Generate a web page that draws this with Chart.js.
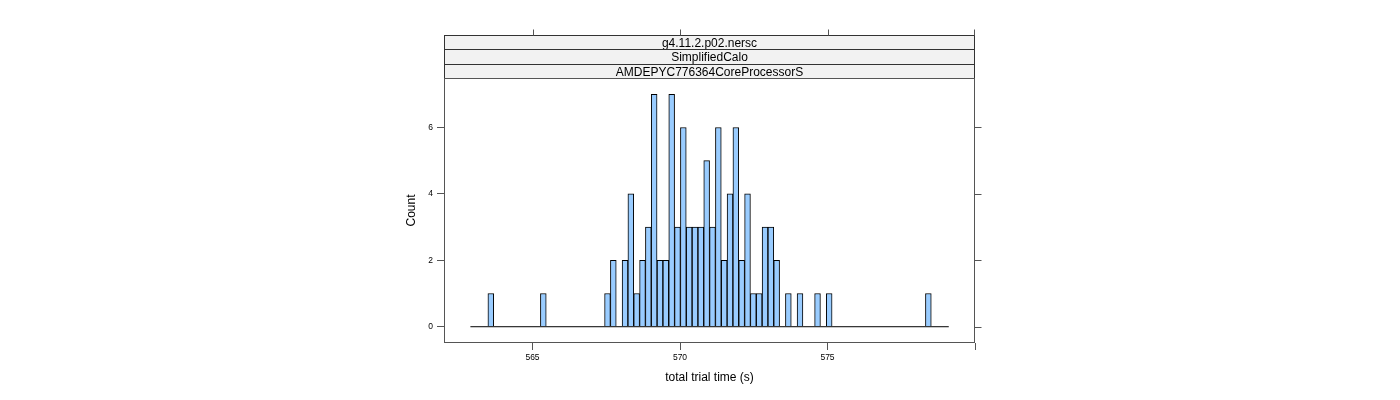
<!DOCTYPE html>
<html>
<head>
<meta charset="utf-8">
<script src="https://cdn.jsdelivr.net/npm/chart.js@4.4.1/dist/chart.umd.min.js"></script>
<style>
  html, body { margin: 0; padding: 0; background: #ffffff; }
  #wrap { width: 1400px; height: 400px; position: relative; }
</style>
</head>
<body>
<div id="wrap"><canvas id="c" width="1400" height="400"></canvas></div>
<script>
// ---- data ----
const stripLabels = ["g4.11.2.p02.nersc", "SimplifiedCalo", "AMDEPYC776364CoreProcessorS"];
// centres of the non-empty histogram bins (total trial time, s)
const binCenters = [563.587, 565.367, 567.542, 567.740, 568.136, 568.333, 568.531, 568.729,
  568.927, 569.124, 569.322, 569.520, 569.718, 569.915, 570.113, 570.311, 570.509, 570.707,
  570.904, 571.102, 571.300, 571.498, 571.695, 571.893, 572.091, 572.289, 572.486, 572.684,
  572.882, 573.080, 573.277, 573.673, 574.068, 574.662, 575.057, 578.419];
const counts = [1, 1, 1, 2, 2, 4, 1, 2,
  3, 7, 2, 2, 7, 3, 6, 3, 3, 3,
  5, 3, 6, 2, 4, 6, 2, 4, 1, 1,
  3, 3, 2, 1, 1, 1, 1, 1];
// outer range of the histogram breaks (drawn as the zero line)
const breaksRange = [562.895, 579.111];
const xTicks = [565, 570, 575, 580];
const xTickLabels = ["565", "570", "575", ""];
const yTicks = [0, 2, 4, 6];
const xLimits = [562.0, 580.0];
const yLimits = [-0.49, 7.49];

const FONT = '"Liberation Sans", Arial, Helvetica, sans-serif';
const AXIS_COL = '#555555';

const framePlugin = {
  id: 'latticeFrame',
  afterDraw(chart) {
    const {ctx, chartArea: a, scales: {x, y}} = chart;
    ctx.save();
    const L = Math.round(a.left) + 0.5, R = Math.round(a.right) - 0.5;
    const T = Math.round(a.top) + 0.5, B = Math.round(a.bottom) - 0.5;
    // strips
    const bounds = [T - 43, T - 29, T - 14, T];
    ctx.font = '12px ' + FONT;
    ctx.textAlign = 'center';
    ctx.textBaseline = 'middle';
    stripLabels.forEach((t, i) => {
      const top = bounds[i], bot = bounds[i + 1];
      ctx.fillStyle = '#F2F2F2';
      ctx.fillRect(L, top, R - L, bot - top);
      ctx.strokeStyle = '#333333';
      ctx.lineWidth = 1;
      ctx.strokeRect(L, top, R - L, bot - top);
      ctx.fillStyle = '#000000';
      ctx.fillText(t, (L + R) / 2, (top + bot) / 2 + 1);
    });
    // panel frame
    ctx.strokeStyle = AXIS_COL;
    ctx.lineWidth = 1;
    ctx.strokeRect(L, T, R - L, B - T);
    // top ticks (above strips)
    ctx.beginPath();
    xTicks.forEach(v => {
      let px = Math.round(x.getPixelForValue(v)) + 0.5;
      if (px > R) px = R;
      ctx.moveTo(px, bounds[0]);
      ctx.lineTo(px, bounds[0] - 6);
    });
    // right ticks
    yTicks.forEach(v => {
      const py = Math.round(y.getPixelForValue(v)) + 0.5;
      ctx.moveTo(R, py);
      ctx.lineTo(R + 7, py);
    });
    ctx.stroke();
    ctx.restore();
  }
};

new Chart(document.getElementById('c'), {
  type: 'bar',
  data: {
    datasets: [
      {
        type: 'bar',
        data: binCenters.map((v, i) => ({x: v, y: counts[i]})),
        backgroundColor: '#99CCFF',
        borderColor: '#000000',
        borderWidth: {top: 1, left: 1, right: 1, bottom: 0},
        borderSkipped: false,
        barPercentage: 1.0,
        categoryPercentage: 1.0,
        order: 1
      },
      {
        type: 'line',
        data: breaksRange.map(v => ({x: v, y: 0})),
        borderColor: '#000000',
        borderWidth: 1,
        pointRadius: 0,
        fill: false,
        order: 0
      }
    ]
  },
  options: {
    responsive: false,
    animation: false,
    events: [],
    layout: { padding: { left: 404, right: 425, top: 78, bottom: 14.8 } },
    plugins: { legend: { display: false }, tooltip: { enabled: false } },
    scales: {
      x: {
        type: 'linear',
        position: 'bottom',
        min: xLimits[0],
        max: xLimits[1],
        offset: false,
        afterBuildTicks: s => { s.ticks = xTicks.map(v => ({value: v})); },
        afterFit: s => { s.height = 42.2; },
        grid: { offset: false, drawOnChartArea: false, drawTicks: true, tickLength: 7, color: AXIS_COL, lineWidth: 1 },
        border: { display: false },
        ticks: {
          maxRotation: 0, autoSkip: false, padding: 3,
          color: '#000000', font: { family: FONT, size: 8.5 },
          callback: (v, i) => xTickLabels[i]
        },
        title: { display: true, text: 'total trial time (s)', color: '#000000', font: { family: FONT, size: 12 }, padding: 0 }
      },
      y: {
        type: 'linear',
        position: 'left',
        min: yLimits[0],
        max: yLimits[1],
        afterBuildTicks: s => { s.ticks = yTicks.map(v => ({value: v})); },
        afterFit: s => { s.width = 40; },
        grid: { drawOnChartArea: false, drawTicks: true, tickLength: 7, color: AXIS_COL, lineWidth: 1 },
        border: { display: false },
        ticks: {
          padding: 4, color: '#000000', font: { family: FONT, size: 8.5 },
          callback: v => String(v)
        },
        title: { display: true, text: 'Count', color: '#000000', font: { family: FONT, size: 12 }, padding: 0 }
      }
    }
  },
  plugins: [framePlugin]
});
</script>
</body>
</html>
